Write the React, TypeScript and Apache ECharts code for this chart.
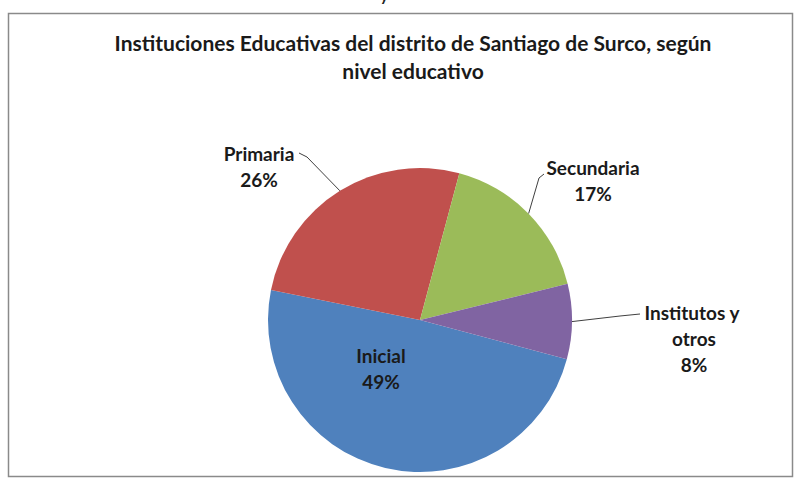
import React, { useEffect, useRef } from "react";
import * as echarts from "echarts";

const categories = ["Inicial", "Primaria", "Secundaria", "Institutos y otros"];
const values = [49, 26, 17, 8];
const colors = ["#4F81BD", "#C0504D", "#9BBB59", "#8064A2"];
const titleLines = [
  "Instituciones Educativas del distrito de Santiago de Surco, según",
  "nivel educativo",
];

// label placement (layout only)
const LABEL_POS = [
  { x: 381, y: 368 },
  { x: 259, y: 166 },
  { x: 593, y: 180 },
  { x: 694, y: 338 },
];
const LINE_TAIL: Array<number[][] | null> = [
  null,
  [[307, 157], [299, 153]],
  [[539, 178], [544, 174]],
  [[620, 316], [640, 314]],
];

const FONT = "Lato, 'Open Sans', sans-serif";

export default function App() {
  const ref = useRef<HTMLDivElement>(null);
  useEffect(() => {
    document.body.style.margin = "0";
    if (!ref.current) return;
    const chart = echarts.init(ref.current, null, { renderer: "svg" });
    chart.setOption({
      animation: false,
      backgroundColor: "#ffffff",
      title: {
        text: titleLines.join("\n"),
        left: 413,
        textAlign: "center",
        top: 28,
        padding: 0,
        textStyle: {
          fontFamily: FONT,
          fontWeight: "bold",
          fontSize: 21,
          lineHeight: 28,
          color: "#1a1a1a",
        },
      },
      graphic: [
        {
          type: "rect",
          shape: { x: 8.5, y: 13.5, width: 784, height: 463 },
          style: { fill: "none", stroke: "#8a8a8a", lineWidth: 1.5 },
          silent: true,
        },
        {
          type: "text",
          x: 380,
          y: 2,
          style: {
            text: "y",
            fontFamily: FONT,
            fontWeight: "bold",
            fontSize: 16,
            fill: "#222",
            textVerticalAlign: "bottom",
          },
          silent: true,
        },
      ],
      series: [
        {
          type: "pie",
          center: [420, 320],
          radius: [0, 152],
          startAngle: -15,
          clockwise: true,
          avoidLabelOverlap: false,
          itemStyle: { borderWidth: 0 },
          label: {
            show: true,
            position: "outside",
            formatter: "{b}\n{d}%",
            fontFamily: FONT,
            fontWeight: "bold",
            fontSize: 19,
            lineHeight: 26,
            color: "#1a1a1a",
            align: "center",
          },
          labelLine: {
            show: true,
            lineStyle: { color: "#404040", width: 1 },
          },
          labelLayout: (params: any) => {
            const p = LABEL_POS[params.dataIndex];
            const out: any = {
              x: p.x,
              y: p.y,
              align: "center",
              verticalAlign: "middle",
            };
            const tail = LINE_TAIL[params.dataIndex];
            if (params.labelLinePoints && tail) {
              out.labelLinePoints = [params.labelLinePoints[0], tail[0], tail[1]];
            }
            return out;
          },
          data: categories.map((name, i) => {
            const item: any = {
              name,
              value: values[i],
              itemStyle: { color: colors[i] },
            };
            if (i === 0) {
              item.label = { position: "inside" };
              item.labelLine = { show: false };
            }
            if (i === 3) {
              item.label = { width: 120, overflow: "break" };
            }
            return item;
          }),
        },
      ],
    });
    return () => chart.dispose();
  }, []);
  return <div ref={ref} style={{ width: 804, height: 479 }} />;
}
